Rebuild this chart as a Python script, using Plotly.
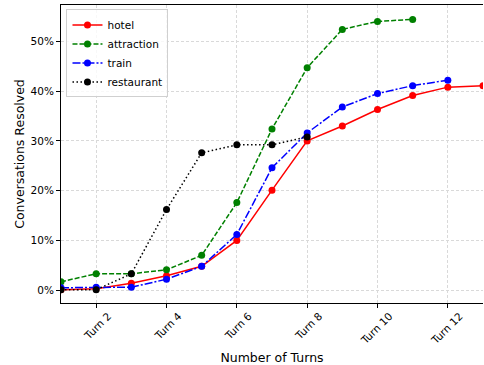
import plotly.graph_objects as go

turns = list(range(1, 14))

hotel = [0.001, 0.003, 0.014, 0.029, 0.048, 0.100, 0.201, 0.300, 0.330, 0.363, 0.391, 0.408, 0.411]
attraction = [0.017, 0.033, 0.033, 0.041, 0.070, 0.176, 0.324, 0.447, 0.524, 0.540, 0.544]
train = [0.005, 0.006, 0.006, 0.022, 0.048, 0.112, 0.246, 0.316, 0.368, 0.395, 0.411, 0.422]
restaurant = [0.001, 0.001, 0.033, 0.162, 0.276, 0.292, 0.292, 0.308]

x_tickvals = [2, 4, 6, 8, 10, 12]
x_ticktext = ["Turn 2", "Turn 4", "Turn 6", "Turn 8", "Turn 10", "Turn 12"]
y_tickvals = [0, 0.1, 0.2, 0.3, 0.4, 0.5]
y_ticktext = ["0%", "10%", "20%", "30%", "40%", "50%"]

series = [
    ("hotel", hotel, "#ff0000", "solid"),
    ("attraction", attraction, "#008000", "5px,2px"),
    ("train", train, "#0000ff", "8px,2px,2px,2px"),
    ("restaurant", restaurant, "#000000", "1.5px,2.5px"),
]

fig = go.Figure()
for name, vals, color, dash in series:
    fig.add_trace(go.Scatter(
        x=turns[:len(vals)], y=vals, name=name, mode="lines+markers",
        line=dict(color=color, width=1.5, dash=dash),
        marker=dict(color=color, size=7),
    ))

font = "DejaVu Sans, sans-serif"
fig.update_layout(
    width=484, height=365,
    margin=dict(l=61, r=1, t=5, b=62),
    paper_bgcolor="white", plot_bgcolor="white",
    font=dict(family=font, size=10.5, color="black"),
    showlegend=True,
    legend=dict(x=0.013, y=0.985, xanchor="left", yanchor="top",
                bgcolor="rgba(255,255,255,0.8)", bordercolor="#d0d0d0", borderwidth=1,
                font=dict(size=10.5), itemwidth=30, tracegroupgap=0),
    xaxis=dict(range=[1, 13], tickvals=x_tickvals, ticktext=x_ticktext, tickangle=-45,
               ticks="outside", ticklen=4, tickcolor="black", showline=True, linecolor="black",
               linewidth=1, mirror=True, showgrid=True, gridcolor="#d9d9d9", griddash="3px,2px",
               gridwidth=0.8, zeroline=False, ticklabelshift=12, ticklabelstandoff=-2,
               automargin=False,
               title=dict(text="Number of Turns", font=dict(size=12.5), standoff=8)),
    yaxis=dict(range=[-0.0257, 0.573], tickvals=y_tickvals, ticktext=y_ticktext,
               ticks="outside", ticklen=4, tickcolor="black", showline=True, linecolor="black",
               linewidth=1, showgrid=True, gridcolor="#d9d9d9", griddash="3px,2px", gridwidth=0.8,
               zeroline=False, automargin=False,
               title=dict(text="Conversations Resolved", font=dict(size=12.5), standoff=3)),
)

fig.write_html("out.html", config={"displayModeBar": False},
               post_script="document.body.style.margin='0';document.body.style.overflow='hidden';")
